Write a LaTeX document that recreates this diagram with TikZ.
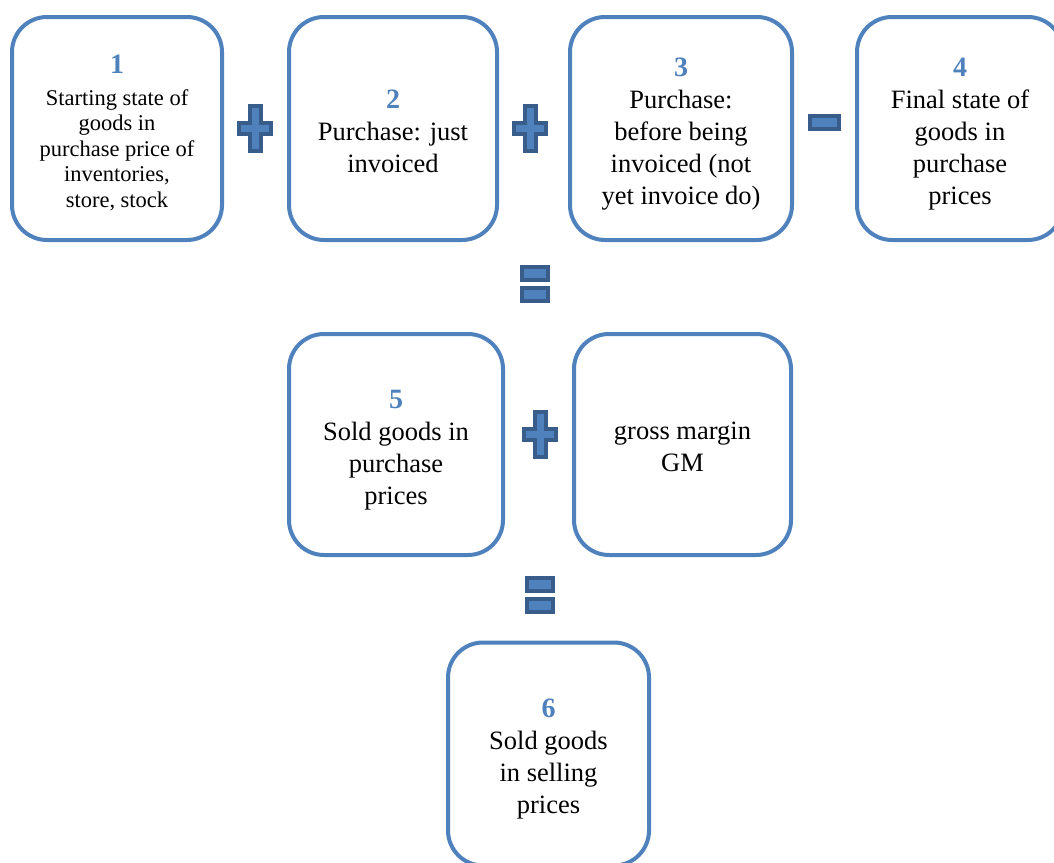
\documentclass[tikz,border=0pt]{standalone}
\usepackage{fontspec}
\setmainfont{Liberation Serif}
\definecolor{frameblue}{HTML}{4F81BD}
\definecolor{darkblue}{HTML}{385D8A}
\tikzset{
  stepcard/.style={draw=frameblue, line width=4pt, rounded corners=35pt, fill=white,
    inner sep=0pt, minimum height=223pt},
  cardtext/.style={align=center, inner sep=0pt, font=\fontsize{26.5}{32}\selectfont},
  signfill/.style={fill=frameblue, draw=darkblue, line width=4pt, line join=miter},
  plussign/.pic={
    \path[signfill] (-5.5,-22.5) -- (5.5,-22.5) -- (5.5,-5.5) -- (16,-5.5) -- (16,5.5)
      -- (5.5,5.5) -- (5.5,22.5) -- (-5.5,22.5) -- (-5.5,5.5) -- (-16,5.5)
      -- (-16,-5.5) -- (-5.5,-5.5) -- cycle;
  },
  minussign/.pic={
    \path[signfill] (-14.5,-6.5) rectangle (14.5,6.5);
  },
  equalsign/.pic={
    \path[signfill] (-13,-16.75) rectangle (13,-3.75);
    \path[signfill] (-13,3.75) rectangle (13,16.75);
  },
}
\newcommand\stepnum[1]{{\fontsize{28}{32}\selectfont\bfseries\color{frameblue}#1}}
\begin{document}
\begin{tikzpicture}[x=1pt, y=-1pt]
  \useasboundingbox (0,0) rectangle (1054,862);
  \clip (0,0) rectangle (1054,862);

  % cards
  \node[stepcard, minimum width=210pt] (b1) at (117,128.5) {};
  \node[stepcard, minimum width=208pt] (b2) at (393,128.5) {};
  \node[stepcard, minimum width=222pt] (b3) at (681,128.5) {};
  \node[stepcard, minimum width=206pt] (b4) at (960,128.5) {};
  \node[stepcard, minimum width=214pt, minimum height=221pt] (b5) at (396,444.5) {};
  \node[stepcard, minimum width=217pt, minimum height=221pt] (gm) at (682.5,444.5) {};
  \node[stepcard, minimum width=201pt] (b6) at (548.5,754) {};

  % card texts
  \node[cardtext, font=\fontsize{22.5}{25.5}\selectfont] (t1) at ([yshift=-4pt]b1.center)
    {\stepnum{1}\\[6.5pt]Starting state of\\goods in\\purchase price of\\inventories,\\store, stock};
  \node[cardtext] (t2) at ([yshift=-2.5pt]b2.center)
    {\stepnum{2}\\Purchase: just\\invoiced};
  \node[cardtext] (t3) at ([yshift=-6pt]b3.center)
    {\stepnum{3}\\Purchase:\\before being\\invoiced (not\\yet invoice do)};
  \node[cardtext] (t4) at ([yshift=-6pt]b4.center)
    {\stepnum{4}\\Final state of\\goods in\\purchase\\prices};
  \node[cardtext] (t5) at ([yshift=-5.5pt]b5.center)
    {\stepnum{5}\\Sold goods in\\purchase\\prices};
  \node[cardtext] (tgm) at ([yshift=-2pt]gm.center)
    {gross margin\\GM};
  \node[cardtext] (t6) at ([yshift=-5pt]b6.center)
    {\stepnum{6}\\Sold goods\\in selling\\prices};

  % operators
  \pic at (255,128) {plussign};
  \pic at (530,128) {plussign};
  \pic at (824,122) {minussign};
  \pic at (535,284) {equalsign};
  \pic at (540,434) {plussign};
  \pic at (540,595) {equalsign};
\end{tikzpicture}
\end{document}
